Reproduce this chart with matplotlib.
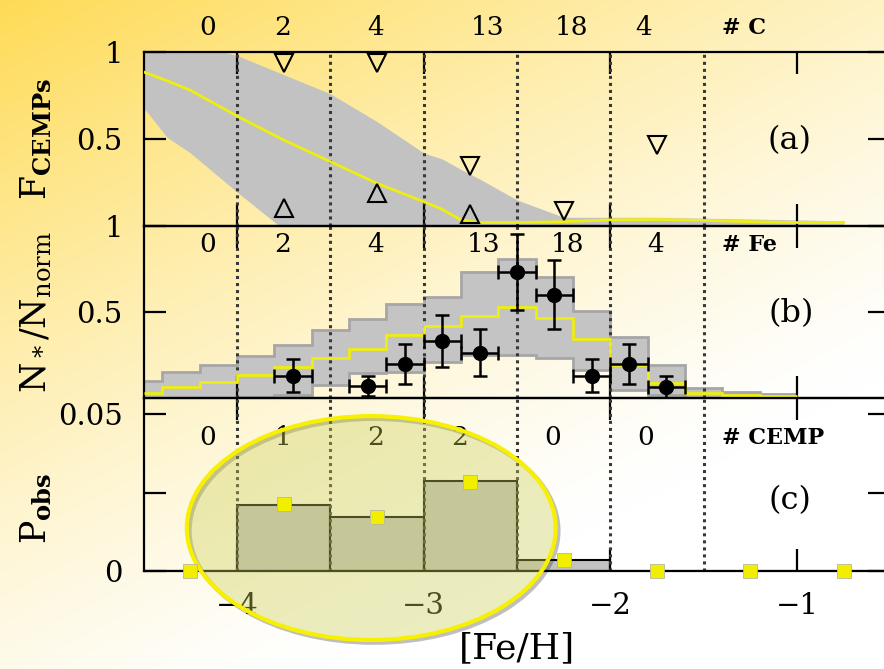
import numpy as np
import matplotlib
matplotlib.use('Agg')
import matplotlib.pyplot as plt
import matplotlib.patheffects as pe
from matplotlib.patches import Ellipse

plt.rcParams['font.family'] = 'DejaVu Serif'
plt.rcParams['mathtext.fontset'] = 'dejavuserif'

# ================== DATA ==================
# (a) fraction of CEMP stars: model band, median and observed limits
feh_a = [-4.5, -4.375, -4.25, -4.0, -3.75, -3.5, -3.25, -3.0, -2.9, -2.8, -2.7,
         -2.5, -2.25, -2.0, -1.75, -1.5, -1.25, -1.0, -0.75]
frac_hi = [1.15, 1.10, 1.05, 0.98, 0.87, 0.76, 0.60, 0.42, 0.385, 0.325, 0.27,
           0.15, 0.05, 0.05, 0.05, 0.045, 0.04, 0.035, 0.03]
frac_lo = [0.68, 0.51, 0.42, 0.195, -0.02, 0.0, 0.0, 0.0, 0.0, 0.0, 0.0,
           0.0, 0.0, 0.01, 0.01, 0.01, 0.01, 0.01, 0.01]
frac_med = [0.885, 0.835, 0.78, 0.632, 0.494, 0.37, 0.245, 0.14, 0.095, 0.035, 0.02,
            0.02, 0.025, 0.035, 0.037, 0.032, 0.025, 0.02, 0.02]
upper_x = [-3.75, -3.25, -2.75, -2.25, -1.75]
upper_y = [0.935, 0.935, 0.345, 0.086, 0.466]
lower_x = [-3.75, -3.25, -2.75]
lower_y = [0.103, 0.19, 0.07]
n_carbon = ['0', '2', '4', '13', '18', '4']

# (b) normalised metallicity distribution
edges_b = [-4.5, -4.4, -4.2, -4.0, -3.8, -3.6, -3.4, -3.2, -3.0, -2.8, -2.6,
           -2.4, -2.2, -2.0, -1.8, -1.6, -1.4, -1.2, -1.0]
mdf_hi = [0.101, 0.151, 0.194, 0.244, 0.308, 0.395, 0.457, 0.545, 0.589, 0.731,
          0.808, 0.705, 0.508, 0.353, 0.192, 0.056, 0.037, 0.023]
mdf_med = [0.031, 0.062, 0.091, 0.132, 0.182, 0.233, 0.285, 0.366, 0.419, 0.477,
           0.527, 0.467, 0.343, 0.19, 0.085, 0.027, 0.017, 0.012]
mdf_lo = [0.0, 0.0, 0.0, 0.008, 0.017, 0.076, 0.145, 0.15, 0.211, 0.25,
          0.25, 0.231, 0.163, 0.047, 0.017, 0.0, 0.0, 0.0]
obs_feh = [-3.7, -3.3, -3.1, -2.9, -2.7, -2.5, -2.3, -2.1, -1.9, -1.7]
obs_n = [0.13, 0.07, 0.198, 0.333, 0.264, 0.733, 0.6, 0.13, 0.198, 0.063]
obs_err = [0.097, 0.06, 0.116, 0.15, 0.136, 0.22, 0.2, 0.094, 0.117, 0.064]
n_iron = ['0', '2', '4', '13', '18', '4']

# (c) probability of observing the CEMP counts
bins_c = [-4.5, -4.0, -3.5, -3.0, -2.5, -2.0, -1.5, -1.0]
p_model = [0.0, 0.0210, 0.0173, 0.0287, 0.0034, 0.0, 0.0, 0.0]
centers_c = [-4.25, -3.75, -3.25, -2.75, -2.25, -1.75, -1.25, -0.75]
p_obs = [0.0, 0.0212, 0.0173, 0.0284, 0.0035, 0.0, 0.0, 0.0]
n_cemp = ['0', '1', '2', '2', '0', '0']

# count label positions along [Fe/H]
lab_x_a = [-4.16, -3.755, -3.26, -2.66, -2.21, -1.82]
lab_x_b = [-4.16, -3.755, -3.26, -2.68, -2.23, -1.76]
lab_x_c = [-4.16, -3.755, -3.26, -2.81, -2.31, -1.81]

# ================== FIGURE ==================
fig = plt.figure(figsize=(8.84, 6.69), dpi=100)

# warm gradient backdrop, strongest in the upper left
bg = fig.add_axes([0, 0, 1, 1], zorder=-10)
u, v = np.meshgrid(np.linspace(0, 1, 300), np.linspace(0, 1, 240))
s = (np.clip(1 - 0.55 * u - 0.8 * v, 0, 1) ** 1.3)[..., None]
gold = np.array([254, 219, 86]) / 255.0
bg.imshow((1 - s) + s * gold, extent=[0, 1, 0, 1], aspect='auto', origin='upper')
bg.axis('off')

left, width = 143.7 / 884, 746.7 / 884
ax_a = fig.add_axes([left, 1 - 226 / 669, width, 174 / 669])
ax_b = fig.add_axes([left, 1 - 398 / 669, width, 172 / 669])
ax_c = fig.add_axes([left, 1 - 571 / 669, width, 173 / 669])

for ax in (ax_a, ax_b, ax_c):
    ax.set_facecolor('none')
    ax.set_xlim(-4.5, -0.5)
    ax.set_xticks([-4, -3, -2, -1])
    ax.tick_params(direction='in', length=16, width=1.6, top=True, right=True,
                   labelsize=21, pad=15)
    for sp in ax.spines.values():
        sp.set_linewidth(1.6)
    for xv in [-4, -3.5, -3, -2.5, -2, -1.5]:
        ax.axvline(xv, color='#383838', ls=(0, (1, 1.3)), lw=2.2, zorder=2)
ax_a.tick_params(labelbottom=False)
ax_b.tick_params(labelbottom=False)

# panel (a)
ax_a.fill_between(feh_a, frac_lo, frac_hi, color='#c2c2c2', lw=0, zorder=1)
ax_a.plot(feh_a, frac_med, color='#eeee10', lw=2, zorder=3)
ax_a.plot(upper_x, upper_y, 'v', mfc='none', mec='black', ms=13, mew=1.5, zorder=4)
ax_a.plot(lower_x, lower_y, '^', mfc='none', mec='black', ms=13, mew=1.5, zorder=4)
ax_a.set_ylim(0, 1)
ax_a.set_yticks([0.5, 1.0])
ax_a.set_yticklabels(['0.5', '1'])
ax_a.set_ylabel(r'$\mathrm{F}_{\mathbf{CEMPs}}$', fontsize=25)
ax_a.yaxis.set_label_coords(-0.12, 0.5)
for x, t in zip(lab_x_a, n_carbon):
    ax_a.text(x, 1.138, t, ha='center', va='center', fontsize=19)
ax_a.text(-1.40, 1.138, '# C', ha='left', va='center', fontsize=16, fontweight='bold')
ax_a.text(-1.04, 0.494, '(a)', ha='center', va='center', fontsize=23)

# panel (b)
ax_b.fill_between(edges_b, mdf_lo + [mdf_lo[-1]], mdf_hi + [mdf_hi[-1]], step='post',
                  color='#c4c4c4', lw=0, zorder=1)
ax_b.stairs(mdf_hi, edges_b, baseline=None, color='#a6a6a6', lw=2, zorder=1.2)
ax_b.stairs(mdf_lo, edges_b, baseline=None, color='#a6a6a6', lw=2, zorder=1.2)
ax_b.stairs(mdf_med, edges_b, baseline=None, color='#eeee10', lw=2, zorder=3)
ax_b.errorbar(obs_feh, obs_n, xerr=0.1, yerr=obs_err, fmt='o', color='black', ms=10,
              elinewidth=1.8, capsize=5, capthick=1.8, zorder=4)
ax_b.set_ylim(0, 1)
ax_b.set_yticks([0.5, 1.0])
ax_b.set_yticklabels(['0.5', '1'])
ax_b.set_ylabel(r'$\mathrm{N_*/N_{norm}}$', fontsize=25)
ax_b.yaxis.set_label_coords(-0.12, 0.5)
for x, t in zip(lab_x_b, n_iron):
    ax_b.text(x, 0.89, t, ha='center', va='center', fontsize=19)
ax_b.text(-1.40, 0.89, '# Fe', ha='left', va='center', fontsize=16, fontweight='bold')
ax_b.text(-1.03, 0.494, '(b)', ha='center', va='center', fontsize=23)

# panel (c)
ax_c.bar(bins_c, p_model, width=0.5, align='edge', color='#c2c2c2', edgecolor='black',
         lw=1.5, zorder=1)
ax_c.plot(centers_c, p_obs, 's', color='#f2ee00', mec='#b8b8a0', mew=0.6, ms=10,
          clip_on=False, zorder=8)
ax_c.set_ylim(0, 0.0551)
ax_c.set_yticks([0, 0.025, 0.05])
ax_c.set_yticklabels(['0', '', '0.05'])
ax_c.set_ylabel(r'$\mathrm{P}_{\mathbf{obs}}$', fontsize=25)
ax_c.yaxis.set_label_coords(-0.12, 0.364)
ax_c.set_xlabel('[Fe/H]', fontsize=26, labelpad=8)
for x, t in zip(lab_x_c, n_cemp):
    ax_c.text(x, 0.0424, t, ha='center', va='center', fontsize=19)
ax_c.text(-1.40, 0.0424, '# CEMP', ha='left', va='center', fontsize=16, fontweight='bold')
ax_c.text(-1.04, 0.0226, '(c)', ha='center', va='center', fontsize=23)

# highlight of the CEMP-rich bins
oval = Ellipse((-3.281, 0.01368), 1.976, 0.0713, facecolor=(0.80, 0.815, 0.345, 0.38),
               edgecolor='#f7f000', lw=3, clip_on=False, zorder=6,
               path_effects=[pe.SimpleLineShadow(offset=(2, -2), shadow_color='k', alpha=0.25),
                             pe.Normal()])
ax_c.add_patch(oval)

fig.savefig('out.png', dpi=100)
